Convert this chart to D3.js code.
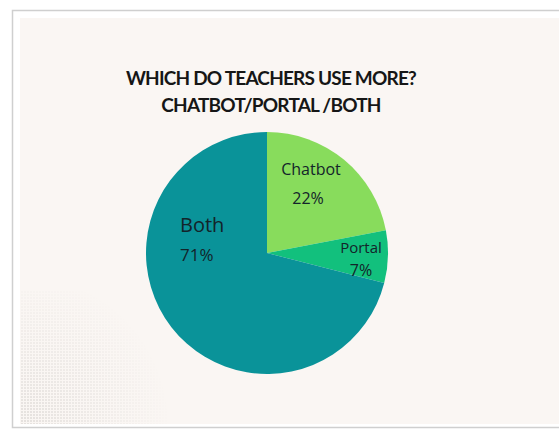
<!DOCTYPE html>
<html>
<head>
<meta charset="utf-8">
<script src="https://cdn.jsdelivr.net/npm/d3@7"></script>
<style>
  html, body { margin: 0; padding: 0; background: #ffffff; }
  svg { display: block; }
</style>
</head>
<body>
<svg id="chart" width="559" height="430"></svg>
<script>
// Survey answers: which tool teachers use more
const categories = ["Chatbot", "Portal", "Both"];
const shares = [22, 7, 71];
const valueLabels = ["22%", "7%", "71%"];
const titleLines = ["WHICH DO TEACHERS USE MORE?", "CHATBOT/PORTAL /BOTH"];

const colors = d3.scaleOrdinal()
  .domain(categories)
  .range(["#88dc5c", "#12c07d", "#0a9399"]);

// Label placement relative to the pie centre (name baseline, value baseline)
const labelLayout = {
  Chatbot: { anchor: "middle", nx: 44, ny: -78, vx: 41, vy: -49, nSize: 16, vSize: 16 },
  Portal:  { anchor: "middle", nx: 94, ny: 0,   vx: 94, vy: 23,  nSize: 15, vSize: 16 },
  Both:    { anchor: "start",  nx: -87, ny: -21, vx: -87, vy: 8, nSize: 20, vSize: 17 }
};

const svg = d3.select("#chart");
const W = 559, H = 430;

// Card frame
svg.append("rect")
  .attr("x", 12.5).attr("y", 10.5)
  .attr("width", W).attr("height", 417)
  .attr("fill", "#ffffff")
  .attr("stroke", "#cfcfcf").attr("stroke-width", 1.5);

svg.append("rect")
  .attr("x", 20).attr("y", 18)
  .attr("width", W).attr("height", 406)
  .attr("fill", "#faf6f3");

// Halftone dots fading out of the lower-left corner
const defs = svg.append("defs");
const grad = defs.append("radialGradient")
  .attr("id", "fade")
  .attr("gradientUnits", "userSpaceOnUse")
  .attr("cx", 20).attr("cy", 424).attr("r", 150);
grad.append("stop").attr("offset", "0%").attr("stop-color", "#fff").attr("stop-opacity", 1);
grad.append("stop").attr("offset", "100%").attr("stop-color", "#fff").attr("stop-opacity", 0);
const mask = defs.append("mask").attr("id", "dotmask");
mask.append("rect").attr("x", 0).attr("y", 0).attr("width", W).attr("height", H).attr("fill", "url(#fade)");
const pat = defs.append("pattern")
  .attr("id", "dots").attr("patternUnits", "userSpaceOnUse")
  .attr("width", 3).attr("height", 3);
pat.append("rect").attr("width", 2).attr("height", 2).attr("fill", "#e4e0dd");
svg.append("rect")
  .attr("x", 20).attr("y", 290).attr("width", 150).attr("height", 134)
  .attr("fill", "url(#dots)")
  .attr("mask", "url(#dotmask)");

// Title
const title = svg.append("text")
  .attr("text-anchor", "middle")
  .attr("font-family", "Lato, sans-serif")
  .attr("font-weight", 700)
  .attr("font-size", 19)
  .attr("letter-spacing", -0.8)
  .attr("fill", "#161616");
title.selectAll("tspan")
  .data(titleLines)
  .join("tspan")
  .attr("x", 271)
  .attr("y", (d, i) => 85 + i * 26.5)
  .text(d => d);

// Pie
const cx = 267, cy = 253, radius = 121;
const data = categories.map((c, i) => ({ name: c, value: shares[i], label: valueLabels[i] }));
const pie = d3.pie().value(d => d.value).sort(null);
const arc = d3.arc().innerRadius(0).outerRadius(radius);

const g = svg.append("g").attr("transform", `translate(${cx},${cy})`);
g.selectAll("path")
  .data(pie(data))
  .join("path")
  .attr("d", arc)
  .attr("fill", d => colors(d.data.name));

const labels = g.selectAll("g.lbl")
  .data(pie(data))
  .join("g")
  .attr("class", "lbl")
  .attr("font-family", "'Open Sans', sans-serif")
  .attr("font-weight", 500)
  .attr("fill", "#13242a");

labels.append("text")
  .attr("text-anchor", d => labelLayout[d.data.name].anchor)
  .attr("x", d => labelLayout[d.data.name].nx)
  .attr("y", d => labelLayout[d.data.name].ny)
  .attr("font-size", d => labelLayout[d.data.name].nSize)
  .text(d => d.data.name);

labels.append("text")
  .attr("text-anchor", d => labelLayout[d.data.name].anchor)
  .attr("x", d => labelLayout[d.data.name].vx)
  .attr("y", d => labelLayout[d.data.name].vy)
  .attr("font-size", d => labelLayout[d.data.name].vSize)
  .text(d => d.data.label);
</script>
</body>
</html>
